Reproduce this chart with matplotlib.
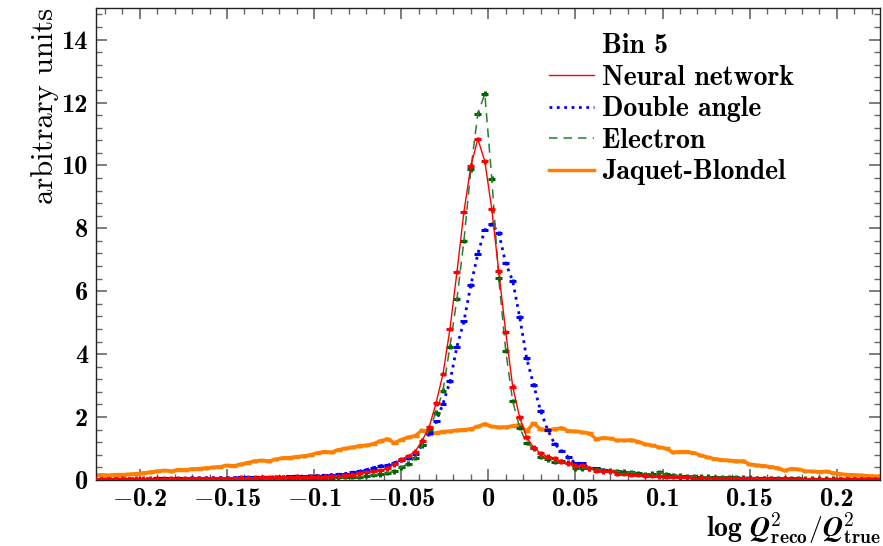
import numpy as np
import matplotlib
matplotlib.use("Agg")
import matplotlib.pyplot as plt
from matplotlib.ticker import MultipleLocator, FuncFormatter

plt.rcParams['mathtext.fontset'] = 'cm'
plt.rcParams['axes.unicode_minus'] = False

# bin layout: 114 bins of width 0.004 between -0.228 and 0.228
bin_lo, bin_hi, bin_w = -0.228, 0.228, 0.004
edges = np.arange(bin_lo, bin_hi + bin_w / 2, bin_w)
centers = 0.5 * (edges[:-1] + edges[1:])

neural_network = [
    0.03, 0.03, 0.03, 0.03, 0.04, 0.03, 0.04, 0.04, 0.04, 0.04,
    0.04, 0.05, 0.04, 0.05, 0.05, 0.05, 0.06, 0.05, 0.06, 0.06,
    0.06, 0.07, 0.07, 0.07, 0.08, 0.08, 0.08, 0.09, 0.09, 0.10,
    0.09, 0.10, 0.10, 0.10, 0.11, 0.12, 0.15, 0.17, 0.21, 0.25,
    0.28, 0.31, 0.37, 0.50, 0.66, 0.76, 0.90, 1.25, 1.67, 2.44,
    3.37, 4.80, 6.61, 8.52, 9.99, 10.84, 10.13, 8.61, 6.63, 4.70,
    2.97, 1.99, 1.36, 1.03, 0.85, 0.74, 0.69, 0.58, 0.53, 0.45,
    0.46, 0.37, 0.29, 0.27, 0.27, 0.19, 0.19, 0.16, 0.16, 0.13,
    0.13, 0.11, 0.10, 0.09, 0.08, 0.08, 0.07, 0.07, 0.06, 0.06,
    0.06, 0.05, 0.05, 0.05, 0.04, 0.04, 0.04, 0.04, 0.03, 0.04,
    0.03, 0.03, 0.03, 0.03, 0.03, 0.02, 0.03, 0.02, 0.02, 0.02,
    0.02, 0.02, 0.02, 0.02,
]

double_angle = [
    0.03, 0.03, 0.03, 0.04, 0.03, 0.04, 0.04, 0.04, 0.04, 0.05,
    0.05, 0.05, 0.05, 0.05, 0.06, 0.06, 0.06, 0.06, 0.07, 0.07,
    0.07, 0.08, 0.08, 0.08, 0.09, 0.09, 0.10, 0.10, 0.11, 0.12,
    0.12, 0.13, 0.14, 0.15, 0.16, 0.18, 0.20, 0.24, 0.28, 0.33,
    0.38, 0.45, 0.46, 0.55, 0.62, 0.69, 0.82, 1.11, 1.48, 1.86,
    2.42, 3.13, 4.24, 5.04, 6.20, 7.19, 7.95, 8.14, 7.85, 6.89,
    6.33, 5.18, 3.87, 3.02, 2.20, 1.60, 1.15, 0.93, 0.72, 0.53,
    0.53, 0.37, 0.37, 0.32, 0.29, 0.27, 0.24, 0.20, 0.18, 0.16,
    0.15, 0.14, 0.13, 0.12, 0.11, 0.10, 0.09, 0.09, 0.08, 0.08,
    0.07, 0.07, 0.06, 0.06, 0.06, 0.05, 0.05, 0.05, 0.05, 0.04,
    0.04, 0.04, 0.04, 0.04, 0.03, 0.03, 0.03, 0.03, 0.03, 0.03,
    0.03, 0.03, 0.02, 0.02,
]

electron = [
    0.01, 0.01, 0.01, 0.01, 0.01, 0.01, 0.01, 0.01, 0.01, 0.01,
    0.01, 0.01, 0.01, 0.02, 0.01, 0.02, 0.02, 0.02, 0.02, 0.02,
    0.02, 0.02, 0.02, 0.02, 0.03, 0.03, 0.03, 0.04, 0.04, 0.05,
    0.04, 0.05, 0.05, 0.06, 0.07, 0.08, 0.09, 0.10, 0.10, 0.13,
    0.16, 0.18, 0.22, 0.27, 0.40, 0.52, 0.70, 1.10, 1.60, 2.14,
    2.84, 4.24, 5.75, 7.60, 9.88, 11.65, 12.28, 9.58, 6.41, 4.11,
    2.51, 1.66, 1.17, 1.01, 0.74, 0.66, 0.58, 0.60, 0.55, 0.37,
    0.37, 0.37, 0.34, 0.30, 0.29, 0.27, 0.26, 0.24, 0.22, 0.19,
    0.20, 0.24, 0.18, 0.15, 0.14, 0.12, 0.12, 0.10, 0.10, 0.09,
    0.09, 0.08, 0.08, 0.07, 0.07, 0.06, 0.06, 0.06, 0.05, 0.05,
    0.05, 0.05, 0.04, 0.04, 0.04, 0.04, 0.04, 0.03, 0.03, 0.03,
    0.03, 0.03, 0.03, 0.03,
]

jaquet_blondel = [
    0.15, 0.16, 0.15, 0.17, 0.17, 0.18, 0.20, 0.22, 0.25, 0.28,
    0.30, 0.28, 0.33, 0.32, 0.35, 0.36, 0.38, 0.40, 0.42, 0.46,
    0.45, 0.50, 0.55, 0.60, 0.62, 0.60, 0.66, 0.70, 0.71, 0.74,
    0.76, 0.80, 0.86, 0.90, 0.88, 0.96, 1.00, 1.04, 1.08, 1.10,
    1.15, 1.24, 1.30, 1.18, 1.28, 1.36, 1.40, 1.58, 1.46, 1.50,
    1.54, 1.55, 1.58, 1.60, 1.62, 1.70, 1.78, 1.70, 1.68, 1.68,
    1.72, 1.75, 1.55, 1.80, 1.62, 1.58, 1.62, 1.65, 1.56, 1.55,
    1.52, 1.48, 1.30, 1.34, 1.32, 1.26, 1.26, 1.27, 1.22, 1.14,
    1.10, 1.04, 1.00, 0.88, 0.90, 0.90, 0.86, 0.78, 0.72, 0.67,
    0.64, 0.62, 0.60, 0.60, 0.50, 0.47, 0.45, 0.42, 0.38, 0.30,
    0.36, 0.34, 0.28, 0.27, 0.26, 0.27, 0.22, 0.19, 0.17, 0.16,
    0.15, 0.13, 0.12, 0.12,
]

labels = ["Neural network", "Double angle", "Electron", "Jaquet-Blondel"]
bin_title = "Bin 5"
x_ticks = [-0.2, -0.15, -0.1, -0.05, 0.0, 0.05, 0.1, 0.15, 0.2]
y_ticks = [0, 2, 4, 6, 8, 10, 12, 14]

fig = plt.figure(figsize=(8.83, 5.46), dpi=100)
ax = fig.add_axes([0.109, 0.121, 0.888, 0.864])

half = bin_w / 2
yerr = 0.05

# Jaquet-Blondel (drawn first)
ax.errorbar(centers, jaquet_blondel, xerr=half, yerr=yerr, fmt='none',
            ecolor='#ff8000', elinewidth=2.5, capsize=0, zorder=2)
ax.plot(centers, jaquet_blondel, '-', color='#ff8000', lw=2.5, zorder=2)

# Double angle
ax.errorbar(centers, double_angle, xerr=half, yerr=yerr, fmt='none',
            ecolor='blue', elinewidth=2.2, capsize=0, zorder=3)
ax.plot(centers, double_angle, ':', color='blue', lw=2, zorder=3)

# Electron
ax.errorbar(centers, electron, xerr=half, yerr=yerr * 1.5, fmt='none',
            ecolor='darkgreen', elinewidth=2.2, capsize=0, zorder=4)
ax.plot(centers, electron, '--', color='#2e7d2e', lw=1.1, dashes=(6, 4), zorder=4)

# Neural network
ax.errorbar(centers, neural_network, xerr=half, yerr=yerr * 1.5, fmt='none',
            ecolor='red', elinewidth=2.2, capsize=0, zorder=5)
ax.plot(centers, neural_network, '-', color='red', lw=1.0, zorder=5)

ax.set_xlim(-0.225, 0.225)
ax.set_ylim(0, 15)

ax.set_xticks(x_ticks)
ax.set_yticks(y_ticks)
ax.xaxis.set_minor_locator(MultipleLocator(0.01))
ax.yaxis.set_minor_locator(MultipleLocator(0.4))


def fmt(v, pos):
    s = ('%.2f' % abs(v)).rstrip('0').rstrip('.')
    if v < -1e-9:
        return r'$-$' + s
    return s


ax.xaxis.set_major_formatter(FuncFormatter(fmt))
ax.yaxis.set_major_formatter(FuncFormatter(fmt))

ax.tick_params(which='both', direction='in', top=True, right=True,
               color='#666666', labelsize=19, pad=6)
ax.tick_params(which='major', length=8, width=1.2)
ax.tick_params(which='minor', length=4, width=1.0)
for lab in ax.get_xticklabels() + ax.get_yticklabels():
    lab.set_family('cmb10')
for sp in ax.spines.values():
    sp.set_color('#222222')
    sp.set_linewidth(1.0)

ax.set_ylabel('arbitrary units', family='cmr10', fontsize=22, loc='top', labelpad=2)
ax.set_xlabel(r'$\mathbf{log}\ \mathbfit{Q}^{\mathbf{2}}_{\mathbf{reco}}/\mathbfit{Q}^{\mathbf{2}}_{\mathbf{true}}$',
              fontsize=20, loc='right', labelpad=-1)

h0, = ax.plot([], [], ' ')
h1, = ax.plot([], [], '-', color='red', lw=1.0)
h2, = ax.plot([], [], ':', color='blue', lw=2)
h3, = ax.plot([], [], '--', color='#5a9a5a', lw=1.5, dashes=(4, 3))
h4, = ax.plot([], [], '-', color='#ff8000', lw=2.5)
leg = ax.legend([h0, h1, h2, h3, h4], [bin_title] + labels, loc='upper left',
                bbox_to_anchor=(0.578, 0.947), frameon=False,
                prop={'family': 'cmb10', 'size': 20}, handlelength=1.6,
                handletextpad=0.3, labelspacing=0.2, borderaxespad=0.0,
                borderpad=0.0)

fig.savefig('out.png', dpi=100)
